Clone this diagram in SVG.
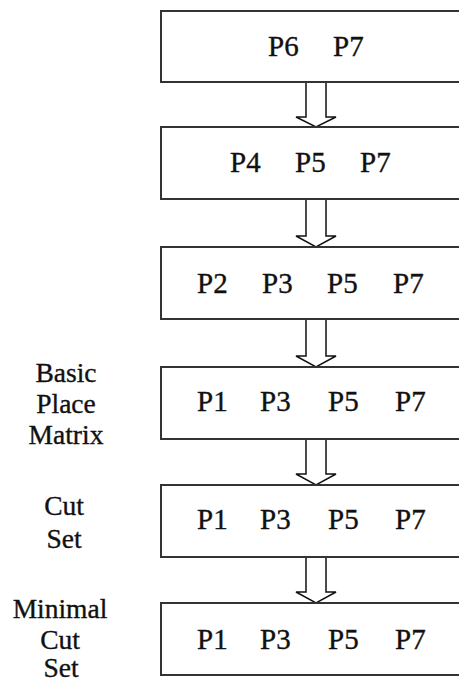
<svg xmlns="http://www.w3.org/2000/svg" width="459" height="680" viewBox="0 0 459 680">
<style>
.box{fill:#fff;stroke:#333;stroke-width:2}
.arr{fill:#fff;stroke:#111;stroke-width:1.5;stroke-linejoin:miter}
.t{font-family:"Liberation Serif", "Times New Roman", serif;font-size:29px;fill:#111;stroke:#111;stroke-width:0.35}
.l{font-family:"Liberation Serif", "Times New Roman", serif;font-size:27.5px;fill:#111;stroke:#111;stroke-width:0.35;text-anchor:middle}
</style>
<rect width="459" height="680" fill="#fff"/>
<g id="connectors">
<polygon class="arr" points="306,82 306,117 296,117 316,127 336,117 326,117 326,82"/>
<polygon class="arr" points="306,199 306,236 296,236 316,247 336,236 326,236 326,199"/>
<polygon class="arr" points="306,319 306,356 296,356 316,367 336,356 326,356 326,319"/>
<polygon class="arr" points="306,439 306,474 296,474 316,485 336,474 326,474 326,439"/>
<polygon class="arr" points="306,557 306,592 296,592 316,603 336,592 326,592 326,557"/>
</g>
<g id="node1">
<rect class="box" x="161" y="11" width="320" height="71"/>
<text class="t" x="268" y="56">P6</text><text class="t" x="333" y="56">P7</text>
</g>
<g id="node2">
<rect class="box" x="161" y="127" width="320" height="72"/>
<text class="t" x="230" y="172">P4</text><text class="t" x="295" y="172">P5</text><text class="t" x="360" y="172">P7</text>
</g>
<g id="node3">
<rect class="box" x="161" y="247" width="320" height="72"/>
<text class="t" x="197" y="293">P2</text><text class="t" x="262" y="293">P3</text><text class="t" x="327" y="293">P5</text><text class="t" x="393" y="293">P7</text>
</g>
<g id="node4">
<rect class="box" x="161" y="367" width="320" height="72"/>
<text class="t" x="197" y="411">P1</text><text class="t" x="260" y="411">P3</text><text class="t" x="328" y="411">P5</text><text class="t" x="395" y="411">P7</text>
<text class="l" x="66" y="382">Basic</text><text class="l" x="66" y="413">Place</text><text class="l" x="66" y="444">Matrix</text>
</g>
<g id="node5">
<rect class="box" x="161" y="485" width="320" height="72"/>
<text class="t" x="197" y="529">P1</text><text class="t" x="260" y="529">P3</text><text class="t" x="328" y="529">P5</text><text class="t" x="395" y="529">P7</text>
<text class="l" x="64" y="515">Cut</text><text class="l" x="64" y="548">Set</text>
</g>
<g id="node6">
<rect class="box" x="161" y="603" width="320" height="72"/>
<text class="t" x="197" y="649">P1</text><text class="t" x="260" y="649">P3</text><text class="t" x="328" y="649">P5</text><text class="t" x="395" y="649">P7</text>
<text class="l" x="60" y="618">Minimal</text><text class="l" x="60" y="649">Cut</text><text class="l" x="61" y="677">Set</text>
</g>
</svg>
